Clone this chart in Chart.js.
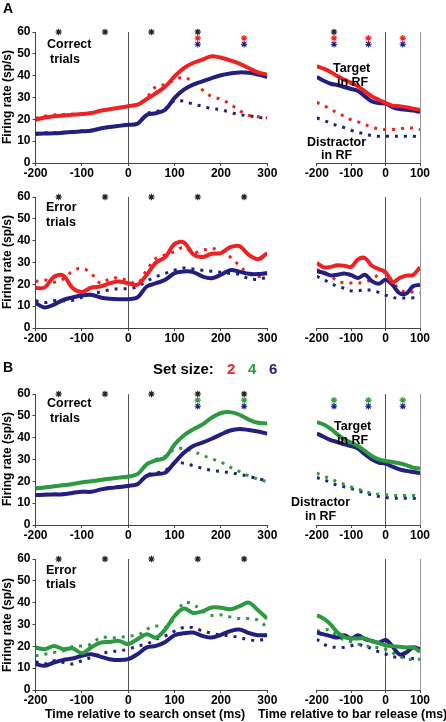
<!DOCTYPE html>
<html><head><meta charset="utf-8">
<script src="https://cdn.jsdelivr.net/npm/chart.js@4.4.1/dist/chart.umd.min.js"></script>
<style>
html,body{margin:0;padding:0;background:#fff;}
body{width:446px;height:722px;position:relative;overflow:hidden;font-family:"Liberation Sans",Arial,sans-serif;font-weight:bold;color:#000;}
canvas{position:absolute;left:0;z-index:1;}
.t{position:absolute;white-space:nowrap;line-height:1;transform:translateY(-50%);z-index:5;}
.yt{position:absolute;white-space:nowrap;line-height:1;font-size:12px;transform:translate(-50%,-50%) rotate(-90deg);left:7px;z-index:5;}
.ann{font-size:12.5px;}
</style></head><body>
<div class="t" style="left:3px;top:8px;font-size:14px;">A</div>
<div class="t" style="left:3px;top:367px;font-size:14px;">B</div>
<div class="t" style="left:153px;top:368px;font-size:15px;">Set size:</div>
<div class="t" style="left:227px;top:368px;font-size:15px;color:#ee2222;">2</div>
<div class="t" style="left:248px;top:368px;font-size:15px;color:#2e9a40;">4</div>
<div class="t" style="left:269px;top:368px;font-size:15px;color:#231f80;">6</div>

<div class="yt" style="top:97px;">Firing rate (sp/s)</div>
<div class="yt" style="top:262px;">Firing rate (sp/s)</div>
<div class="yt" style="top:459px;">Firing rate (sp/s)</div>
<div class="yt" style="top:625px;">Firing rate (sp/s)</div>

<div class="t ann" style="left:47px;top:44px;">Correct</div>
<div class="t ann" style="left:50px;top:59px;">trials</div>
<div class="t ann" style="left:46px;top:207px;">Error</div>
<div class="t ann" style="left:46px;top:222px;">trials</div>
<div class="t ann" style="left:47px;top:403px;">Correct</div>
<div class="t ann" style="left:50px;top:418px;">trials</div>
<div class="t ann" style="left:46px;top:570px;">Error</div>
<div class="t ann" style="left:46px;top:584px;">trials</div>

<div class="t ann" style="left:333px;top:68px;">Target</div>
<div class="t ann" style="left:337px;top:82px;">in RF</div>
<div class="t ann" style="left:307px;top:142px;">Distractor</div>
<div class="t ann" style="left:321px;top:155px;">in RF</div>
<div class="t ann" style="left:334px;top:426px;">Target</div>
<div class="t ann" style="left:337px;top:440px;">in RF</div>
<div class="t ann" style="left:291px;top:502px;">Distractor</div>
<div class="t ann" style="left:305px;top:516px;">in RF</div>

<div class="t" style="left:45px;top:714px;font-size:12.4px;">Time relative to search onset (ms)</div>
<div class="t" style="left:258px;top:714px;font-size:12.4px;">Time relative to bar release (ms)</div>

<script>
// ---------- time grids (ms) ----------
const tL = [-200,-180,-160,-140,-120,-100,-80,-60,-40,-20,0,20,40,60,80,100,120,140,160,180,200,220,240,260,280,300];
const tR = [-200,-180,-160,-140,-120,-100,-80,-60,-40,-20,0,20,40,60,80,100];

// ---------- A: correct trials (set size 2 red, 6 blue); d = distractor in RF ----------
const acL2  = [19.8,20.8,21.4,21.8,22.1,22.4,22.9,23.9,24.6,25.3,26,26.7,29.3,32,35,39.7,43.5,45.8,47.3,48.9,48.2,47,45.5,43.5,41.5,40.5];
const acL2d = [20.5,21.5,22,22.2,22.3,22.5,22.8,23.9,24.6,25.3,26,26.7,30,35,36,38,39.3,37,33.5,30.5,29.2,27,24,21.8,21.2,20.6];
const acL6  = [13.3,13.5,13.6,13.9,14.2,14.5,14.8,15.8,16.5,17,17.5,18,22,22.8,24.4,29.8,33.6,35.9,37.4,38.9,40.2,41,41.5,41.3,40.5,39.4];
const acL6d = [13.6,13.8,13.9,14.1,14.4,14.7,15,15.9,16.6,17.1,17.6,18.2,22.5,23.5,25,28.5,28.3,27,26,25,24.4,23.2,22.2,21.6,21,20.2];
const acR2  = [44.3,43.2,41.7,39.8,38.2,36.6,35.1,32.8,30.5,29,27.5,26.3,26,25.6,24.9,24.4];
const acR6  = [39.4,37.7,36.3,35.7,34.8,33.9,33,30.5,28.2,27.5,27.2,25.6,24.7,24.4,24,23.4];
const acR2d = [27.8,26.3,24.7,22.9,21.4,19.8,18.8,17.6,16.5,15.6,15.3,15.3,15.7,16,16,15.3];
const acR6d = [20.6,19.5,18.3,17.1,16.2,15,14,13.3,12.5,12.2,12.2,12.2,12.2,12.2,12.2,11.9];

// ---------- A: error trials ----------
const aeL2  = [18.3,18.6,23.5,24,18.3,16.5,18.5,19,20.5,21.3,20.5,19.8,24.4,30,32.5,38.5,39.2,33.8,32.5,34,34.3,37,37.5,33.5,31.5,34.3];
const aeL2d = [21.3,22,21,22.5,26,27.4,25,20.5,22.5,23,21.6,20.5,26.6,32,33.5,35,37,34.5,35.5,36.5,35,32.5,28.5,24.8,23.6,24.4];
const aeL6  = [11.4,9.4,10.7,12.9,14,14.9,15.2,14,13.4,13.2,13.2,14,19,20.5,22.1,25.1,25.9,25.6,23.6,22.8,24.4,26.5,25.8,24.8,24.7,25.2];
const aeL6d = [12.5,11.7,12.5,12.5,12.7,14,15.5,16.5,17.5,18,18,19,21.5,23.5,25,26.5,27.5,27,26.5,26,25.5,25,24.5,22.6,22.3,23.3];
const aeR2  = [29.8,27.8,28,28.7,28.5,28,31.5,32,28.5,27,25.6,21,22.9,24,24.3,27.8];
const aeR6  = [26,25.3,24.1,24.4,25,24.2,22.9,24.4,21.5,20.3,22.1,19.8,16,15.8,19.1,19.8];
const aeR2d = [26.7,25.5,24,21.4,20.8,20.6,20.6,21,22.3,24.4,25.2,21.4,17.6,16.5,16.5,16];
const aeR6d = [23.7,22.2,20.5,19.1,18.2,17,17,17.6,17.2,16.3,15.1,14,13.6,13.8,13.8,14];

// ---------- B: correct trials (set size 4 green, 6 blue) ----------
const bcL4  = [16.7,17.2,17.7,18.2,18.8,19.5,20,20.6,21.2,21.7,22.2,23.3,27.8,29.6,30.9,36.9,41,43.8,46,49.1,51.3,51.7,50.5,48.3,46.8,46.5];
const bcL4d = [17,17.4,17.9,18.4,19,19.6,20.1,20.7,21.3,21.8,22.3,23.5,28,30,31.5,34.7,35,33.8,32,30.3,28.8,26.5,24.5,22.5,21,19.8];
const bcL6  = [13.7,13.9,14,14.1,14.7,15.2,15.2,16.2,16.9,17.4,17.9,18.7,22.5,23.3,24,28.6,33.1,36.2,37.7,39.5,41.5,43.3,44,43.5,42.8,41.9];
const bcL6d = [13.9,14.1,14.2,14.3,14.9,15.4,15.4,16.4,17.1,17.6,18.1,19,22.8,23.8,25,28.5,28.3,27.2,26,25,24.5,24,23.2,22.3,21.2,20.3];
const bcR4  = [47.1,46,44.1,41.5,39.2,37.7,36.2,33.9,31.6,30.1,29.3,28.9,28.3,27.4,26.3,25.8];
const bcR6  = [41.9,40.4,38.9,38,36.9,36.2,35,32.4,30.1,28.6,28.1,26.7,25.5,24.8,24.3,23.7];
const bcR4d = [23.7,22.4,21.1,19.8,18.6,17.4,16.4,15.3,14.6,14.1,13.8,13.6,13.5,13.5,13.5,13.4];
const bcR6d = [21.7,20.7,19.5,18.2,17.5,16.7,15.7,14.6,13.8,13.1,12.6,12.3,12.3,12.3,12.2,11.9];

// ---------- B: error trials ----------
const beL4  = [19.5,18.7,20.2,18.7,19.1,16.9,19.5,21.7,22,22.5,21,23.3,25.5,24,27.8,33.9,37.3,35.3,36,37.8,37.7,37,38.4,40,36.5,32.7];
const beL4d = [15.7,16.4,17.2,17.9,19.9,20.2,21,24,24,24,24.8,25.1,27.8,29.3,28.6,33.1,40,39.2,36.2,34.2,34.4,33.5,32.7,32.7,32,28.6];
const beL6  = [11.9,11.1,12.6,13.8,14.4,15.7,16.4,15.3,14.1,13.7,14.1,16.4,19.5,20.2,22,25.1,26,26.3,24.8,24,25.3,27,27.7,26.1,25.1,25.1];
const beL6d = [12.9,11.9,13.4,12.6,11.9,13.4,14.9,16.4,17.5,17.9,18.7,20.2,21,23.3,24.8,27,28.6,28.6,27,26,25.1,24.8,24,23,22.7,23.6];
const beR4  = [34.2,32.7,30.1,26.3,24.2,23.6,23.6,23.6,22.3,21.5,20.5,20.1,19.8,19.5,19.5,17.5];
const beR6  = [26.3,25.5,24.7,24,25.1,23.6,25.1,23.3,22.5,21.7,22.9,20,16.3,17.2,19.5,18.7];
const beR4d = [27,27.5,27.5,24.5,23,22,21,20.3,19.8,19.3,18.7,17,15.5,14.1,14,14.1];
const beR6d = [23.3,21,19.8,19.5,19.6,20.3,20.8,20,19,17.5,16.5,15.3,14.9,15.2,14.4,14.4];

// ---------- significance markers (times, ms) ----------
const starsAcL_all = [-150,-50,50,150];  const starsAcL_2 = [150,250]; const starsAcL_6 = [150,250];
const starsAcR_all = [-150];             const starsAcR_2 = [-150,-50,50]; const starsAcR_6 = [-150,-50,50];
const starsAeL_all = [-150,-50,50,150,250];
const starsBcL_all = [-150,-50,50,150,250]; const starsBcL_4 = [150,250]; const starsBcL_6 = [150,250];
const starsBcR_4 = [-150,-50,50]; const starsBcR_6 = [-150,-50,50];
const starsBeL_all = [-150,-50,50,150,250];
const starLevels = [60, 57.2, 54.4]; // firing-rate rows for: all, small set, set size 6

// ---------- axis ticks ----------
const yTicks = [0,10,20,30,40,50,60];

const RED = '#ee2222', NAVY = '#231f80', GREEN = '#2e9a40', BLACK = '#222';

Chart.defaults.font.family = '"Liberation Sans", Arial, sans-serif';
Chart.defaults.font.weight = 'bold';
Chart.defaults.font.size = 12;
Chart.defaults.color = '#000';

function line(xs, ys, color, dotted){
  return {data: xs.map((x,i)=>({x:x, y:ys[i]})), borderColor: color, backgroundColor: color,
    borderWidth: dotted ? 3 : 4, borderDash: dotted ? [3,6] : [], pointRadius: 0,
    tension: 0.35, fill: false};
}
function stars(times, level, color){
  return {data: times.map(x=>({x:x, y:starLevels[level]})), showLine:false, pointStyle:'star',
    pointRadius:3.2, borderColor:color, pointBorderColor:color, backgroundColor:color, pointBorderWidth:1.1, clip:false};
}

const panels = [
  {T:32, side:'L', ds:[stars(starsAcL_all,0,BLACK),stars(starsAcL_2,1,RED),stars(starsAcL_6,2,NAVY),
     line(tL,acL2,RED,false),line(tL,acL6,NAVY,false),line(tL,acL2d,RED,true),line(tL,acL6d,NAVY,true)]},
  {T:32, side:'R', ds:[stars(starsAcR_all,0,BLACK),stars(starsAcR_2,1,RED),stars(starsAcR_6,2,NAVY),
     line(tR,acR2,RED,false),line(tR,acR6,NAVY,false),line(tR,acR2d,RED,true),line(tR,acR6d,NAVY,true)]},
  {T:197, side:'L', ds:[stars(starsAeL_all,0,BLACK),
     line(tL,aeL2,RED,false),line(tL,aeL6,NAVY,false),line(tL,aeL2d,RED,true),line(tL,aeL6d,NAVY,true)]},
  {T:197, side:'R', ds:[line(tR,aeR2,RED,false),line(tR,aeR6,NAVY,false),line(tR,aeR2d,RED,true),line(tR,aeR6d,NAVY,true)]},
  {T:394, side:'L', ds:[stars(starsBcL_all,0,BLACK),stars(starsBcL_4,1,GREEN),stars(starsBcL_6,2,NAVY),
     line(tL,bcL4,GREEN,false),line(tL,bcL6,NAVY,false),line(tL,bcL4d,GREEN,true),line(tL,bcL6d,NAVY,true)]},
  {T:394, side:'R', ds:[stars(starsBcR_4,1,GREEN),stars(starsBcR_6,2,NAVY),
     line(tR,bcR4,GREEN,false),line(tR,bcR6,NAVY,false),line(tR,bcR4d,GREEN,true),line(tR,bcR6d,NAVY,true)]},
  {T:559, side:'L', ds:[stars(starsBeL_all,0,BLACK),
     line(tL,beL4,GREEN,false),line(tL,beL6,NAVY,false),line(tL,beL4d,GREEN,true),line(tL,beL6d,NAVY,true)]},
  {T:559, side:'R', ds:[line(tR,beR4,GREEN,false),line(tR,beR6,NAVY,false),line(tR,beR4d,GREEN,true),line(tR,beR6d,NAVY,true)]}
];

const PADTOP = 14, PLOTH = 131, XH = 22;
panels.forEach(p=>{
  const c = document.createElement('canvas');
  const H = PADTOP + PLOTH + XH;
  c.width = 446; c.height = H;
  c.style.width = '446px'; c.style.height = H + 'px';
  c.style.top = (p.T - PADTOP) + 'px';
  document.body.appendChild(c);
  const L = p.side === 'L';
  const xMin = -200, xMax = L ? 300 : 100;
  new Chart(c, {
    type: 'line',
    data: {datasets: p.ds},
    options: {
      responsive: false, animation: false, devicePixelRatio: 1,
      layout: {padding: {left: L ? 0 : 281.3, right: L ? 446 - 267.3 : 446 - 420, top: PADTOP, bottom: 0}},
      plugins: {legend: {display: false}, tooltip: {enabled: false}},
      scales: {
        x: {type: 'linear', min: xMin, max: xMax,
          ticks: {stepSize: 100, padding: 0, maxRotation: 0, autoSkip: false, color: '#000'},
          grid: {drawOnChartArea: true, drawTicks: true, tickLength: 3, tickColor: '#444', lineWidth: 1,
            color: ctx => (ctx.tick && ctx.tick.value === 0) ? '#555' : ((!L && ctx.tick && ctx.tick.value === 100) ? '#999' : 'rgba(0,0,0,0)')},
          border: {display: true, color: '#444', width: 1},
          afterFit: s => { s.height = XH; s.paddingLeft = 0; s.paddingRight = 0; }
        },
        y: {display: L, min: 0, max: 60,
          afterBuildTicks: s => { s.ticks = yTicks.map(v => ({value: v})); },
          ticks: {padding: 2, color: '#000'},
          grid: {drawOnChartArea: false, drawTicks: true, tickLength: 3, tickColor: '#444'},
          border: {display: true, color: '#444', width: 1},
          afterFit: s => { s.width = 35.5; s.paddingTop = 0; s.paddingBottom = 0; }
        }
      }
    }
  });
});
</script>
</body></html>
